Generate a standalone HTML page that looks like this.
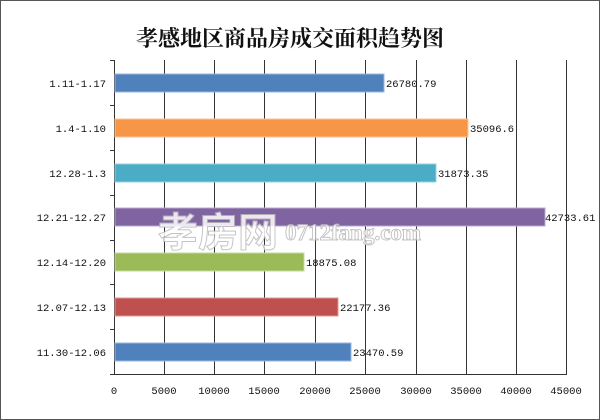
<!DOCTYPE html>
<html><head><meta charset="utf-8"><style>
html,body{margin:0;padding:0;background:#fff;}
</style></head><body>
<svg width="600" height="420" xmlns="http://www.w3.org/2000/svg" style="display:block">
<rect x="0.5" y="0.5" width="599" height="419" fill="#fff" stroke="#555" stroke-width="1"/>
<text x="290" y="46" text-anchor="middle" font-family="'Liberation Serif','Noto Serif CJK SC',serif" font-weight="bold" font-size="22" fill="#111">孝感地区商品房成交面积趋势图</text>
<g stroke="#333" stroke-width="1">
<line x1="164.5" y1="60" x2="164.5" y2="374"/>
<line x1="214.5" y1="60" x2="214.5" y2="374"/>
<line x1="264.5" y1="60" x2="264.5" y2="374"/>
<line x1="315.5" y1="60" x2="315.5" y2="374"/>
<line x1="365.5" y1="60" x2="365.5" y2="374"/>
<line x1="416.5" y1="60" x2="416.5" y2="374"/>
<line x1="466.5" y1="60" x2="466.5" y2="374"/>
<line x1="516.5" y1="60" x2="516.5" y2="374"/>
<line x1="566.5" y1="60" x2="566.5" y2="374"/>
<line x1="114.5" y1="60" x2="114.5" y2="374"/>
<line x1="114" y1="374.5" x2="567" y2="374.5"/>
<line x1="110" y1="60.5" x2="114" y2="60.5"/>
<line x1="110" y1="105.5" x2="114" y2="105.5"/>
<line x1="110" y1="150.5" x2="114" y2="150.5"/>
<line x1="110" y1="195.5" x2="114" y2="195.5"/>
<line x1="110" y1="240.5" x2="114" y2="240.5"/>
<line x1="110" y1="284.5" x2="114" y2="284.5"/>
<line x1="110" y1="329.5" x2="114" y2="329.5"/>
<line x1="110" y1="374.5" x2="114" y2="374.5"/>
</g>
<g stroke-width="1">
<rect x="115" y="74" width="269" height="18" fill="#4f81bd" stroke="#9ab6dc"/>
<rect x="115" y="119" width="353" height="18" fill="#f79646" stroke="#fbc49a"/>
<rect x="115" y="164" width="321" height="18" fill="#4bacc6" stroke="#97d0df"/>
<rect x="115" y="208" width="430" height="18" fill="#8064a2" stroke="#b9a8cf"/>
<rect x="115" y="253" width="189" height="18" fill="#9bbb59" stroke="#c6da9d"/>
<rect x="115" y="298" width="223" height="18" fill="#c0504d" stroke="#dc9896"/>
<rect x="115" y="343" width="236" height="18" fill="#4f81bd" stroke="#9ab6dc"/>
</g>
<g font-family="'Liberation Mono',monospace" font-size="10.5" fill="#111">
<text x="386" y="87">26780.79</text>
<text x="470" y="132">35096.6</text>
<text x="438" y="177">31873.35</text>
<text x="545" y="221">42733.61</text>
<text x="306" y="266">18875.08</text>
<text x="340" y="311">22177.36</text>
<text x="353" y="356">23470.59</text>
</g>
<g font-family="'Liberation Mono',monospace" font-size="10.5" fill="#111" text-anchor="end">
<text x="106" y="87">1.11-1.17</text>
<text x="106" y="132">1.4-1.10</text>
<text x="106" y="177">12.28-1.3</text>
<text x="106" y="221">12.21-12.27</text>
<text x="106" y="266">12.14-12.20</text>
<text x="106" y="311">12.07-12.13</text>
<text x="106" y="356">11.30-12.06</text>
</g>
<g font-family="'Liberation Mono',monospace" font-size="10.5" fill="#111" text-anchor="middle">
<text x="114" y="394">0</text>
<text x="164" y="394">5000</text>
<text x="214" y="394">10000</text>
<text x="264" y="394">15000</text>
<text x="315" y="394">20000</text>
<text x="365" y="394">25000</text>
<text x="416" y="394">30000</text>
<text x="466" y="394">35000</text>
<text x="516" y="394">40000</text>
<text x="566" y="394">45000</text>
</g>
<g opacity="0.85" fill="#fff" stroke="#bbb" stroke-width="1">
<text x="158" y="246" font-family="'Liberation Sans','Noto Sans CJK SC',sans-serif" font-weight="bold" font-size="40">孝房网</text>
<text x="285" y="240" font-family="'Liberation Serif',serif" font-weight="bold" font-size="23">0712fang.com</text>
</g>
</svg>
</body></html>
